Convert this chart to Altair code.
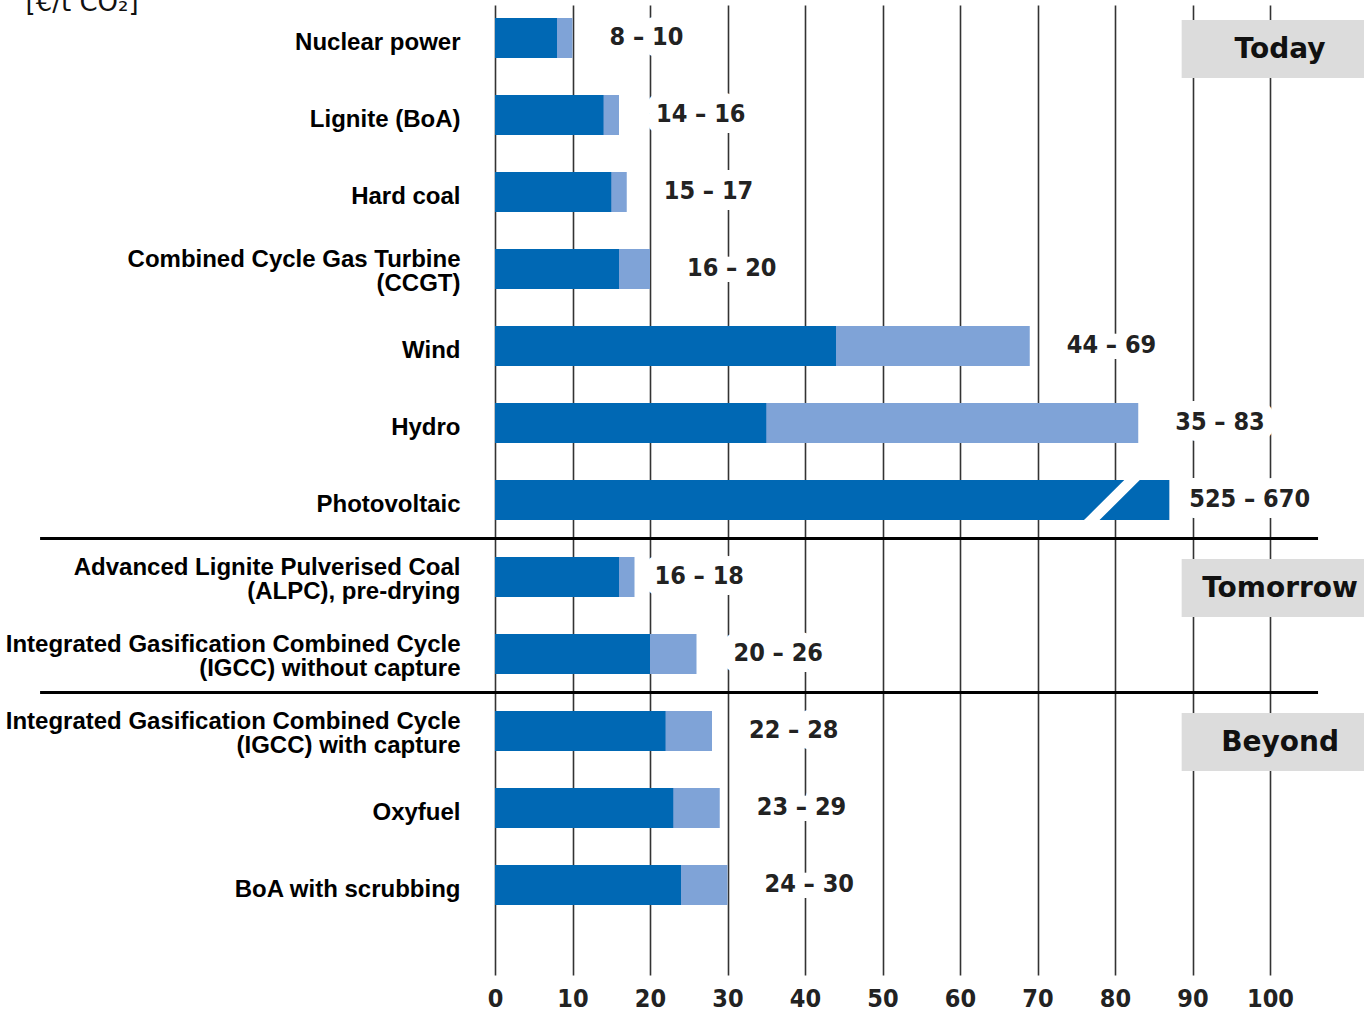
import altair as alt
import pandas as pd

# ---------------- data ----------------
categories = [
    "Nuclear power",
    "Lignite (BoA)",
    "Hard coal",
    "Combined Cycle Gas Turbine\n(CCGT)",
    "Wind",
    "Hydro",
    "Photovoltaic",
    "Advanced Lignite Pulverised Coal\n(ALPC), pre-drying",
    "Integrated Gasification Combined Cycle\n(IGCC) without capture",
    "Integrated Gasification Combined Cycle\n(IGCC) with capture",
    "Oxyfuel",
    "BoA with scrubbing",
]
low = [8, 14, 15, 16, 44, 35, 525, 16, 20, 22, 23, 24]
high = [10, 16, 17, 20, 69, 83, 670, 18, 26, 28, 29, 30]
tick_values = [0, 10, 20, 30, 40, 50, 60, 70, 80, 90, 100]
sections = ["Today", "Tomorrow", "Beyond"]
section_rows = [categories[0], categories[7], categories[9]]
separator_rows = [categories[6], categories[8]]
tight_label_rows = [categories[6], categories[7]]
unit_label = "[€/t CO₂]"

# ---------------- layout / style constants ----------------
AXIS_MAX = 100
BROKEN_DISPLAY = 87          # drawn length of the off-scale (broken) bar
BREAK_X = (77.0, 82.2)       # diagonal cut in the broken bar (bottom, top)
SEP_X = (-58.7, 106.2)       # extent of section separator lines
BOX_X = (88.6, 112.3)        # section label boxes
BOX_TEXT_X = 101.3
PX_PER_UNIT = 7.75
W, H = 869, 970
X_MAX = W / PX_PER_UNIT
P_IN, P_OUT, ALIGN = 0.48, 0.539, 0.157
STEP = H / (len(categories) - P_IN + 2 * P_OUT)

DARK = "#0068b4"
LIGHT = "#7fa3d7"
GRID = "#333333"
NUM_FONT = "DejaVu Sans Condensed, DejaVu Sans"
CAT_FONT = "Liberation Sans, Arial"

rows = []
for c, lo, hi in zip(categories, low, high):
    broken = hi > AXIS_MAX
    rows.append({
        "cat": c,
        "low_disp": BROKEN_DISPLAY if broken else lo,
        "high_disp": BROKEN_DISPLAY if broken else hi,
        "label": f"{lo} \u2013 {hi}",
        "tight": c in tight_label_rows,
    })
df = pd.DataFrame(rows)

xscale = alt.Scale(domain=[0, X_MAX], nice=False, zero=False)
yscale = alt.Scale(domain=categories, paddingInner=P_IN, paddingOuter=P_OUT, align=ALIGN)

xaxis = alt.Axis(
    title=None, values=tick_values, grid=True, gridColor=GRID, gridWidth=1.6,
    ticks=False, domain=False, labelFont=NUM_FONT, labelFontWeight="bold",
    labelFontSize=25, labelColor="#222222", labelPadding=11, labelFlush=False,
)
yaxis = alt.Axis(
    title=unit_label, titleAngle=0, titleAlign="left", titleBaseline="alphabetic",
    titleX=-470, titleY=5, titleFont="DejaVu Sans", titleFontWeight="normal",
    titleFontSize=26, titleColor="#111111",
    grid=False, ticks=False, domain=False, labelFont=CAT_FONT, labelFontWeight="bold",
    labelFontSize=24, labelLineHeight=24, labelColor="#000000", labelPadding=35,
    labelLimit=0, labelExpr="split(datum.label, '\\n')",
    labelOffset={"condition": {"test": "indexof(datum.value, '\\n') >= 0", "value": -9}, "value": 5},
)


def X(field):
    return alt.X(field, type="quantitative", scale=xscale, axis=xaxis)


def Y(band=None):
    if band is None:
        return alt.Y("cat:N", scale=yscale, axis=yaxis, sort=categories)
    return alt.Y("cat:N", scale=yscale, axis=yaxis, sort=categories, bandPosition=band)


base = alt.Chart(df)

light_bars = base.mark_bar(color=LIGHT).encode(x=X("high_disp"), y=Y())
dark_bars = base.mark_bar(color=DARK).encode(x=X("low_disp"), y=Y())

break_df = pd.DataFrame([{"cat": categories[6], "xb": BREAK_X[0], "xt": BREAK_X[1]}])
break_rule = alt.Chart(break_df).mark_rule(color="white", strokeWidth=11, strokeCap="square").encode(
    x=X("xb"), x2="xt", y=Y(1), y2=alt.Y2("cat:N", bandPosition=0)
)

sep_df = pd.DataFrame([{"cat": r, "xs": SEP_X[0], "xe": SEP_X[1]} for r in separator_rows])
separators = alt.Chart(sep_df).mark_rule(
    color="#000000", strokeWidth=3, yOffset=STEP * P_IN / 2
).encode(x=X("xs"), x2="xe", y=Y(1))

normal = base.transform_filter("!datum.tight")
tight = base.transform_filter("datum.tight")
txt_style = dict(font=NUM_FONT, fontWeight="bold", fontSize=25, align="left", baseline="middle", dy=-1)
halo_style = dict(txt_style, color="white", stroke="white", strokeWidth=22, strokeJoin="round")

halo_n = normal.mark_text(dx=37, **halo_style).encode(x=X("high_disp"), y=Y(0.5), text="label:N")
halo_t = tight.mark_text(dx=20, **halo_style).encode(x=X("high_disp"), y=Y(0.5), text="label:N")
text_n = normal.mark_text(dx=37, color="#222222", **txt_style).encode(x=X("high_disp"), y=Y(0.5), text="label:N")
text_t = tight.mark_text(dx=20, color="#222222", **txt_style).encode(x=X("high_disp"), y=Y(0.5), text="label:N")

sec_df = pd.DataFrame([
    {"cat": r, "name": s, "x0": BOX_X[0], "x1": BOX_X[1], "xt": BOX_TEXT_X}
    for r, s in zip(section_rows, sections)
])
boxes = alt.Chart(sec_df).mark_rule(color="#dcdcdc", strokeWidth=58, yOffset=11).encode(
    x=X("x0"), x2="x1", y=Y(0.5)
)
box_text = alt.Chart(sec_df).mark_text(
    font="DejaVu Sans", fontWeight="bold", fontSize=28, color="#111111",
    align="center", baseline="middle", yOffset=12,
).encode(x=X("xt"), y=Y(0.5), text="name:N")

chart = alt.layer(
    light_bars, dark_bars, break_rule, separators,
    halo_n, halo_t, text_n, text_t, boxes, box_text,
).properties(
    width=W, height=H,
    background="white",
    autosize=alt.AutoSizeParams(type="none"),
    padding={"left": 495, "top": 5, "right": 0, "bottom": 38},
).configure_view(stroke=None)

chart.save("out.html", embed_options={"renderer": "svg", "actions": False})
